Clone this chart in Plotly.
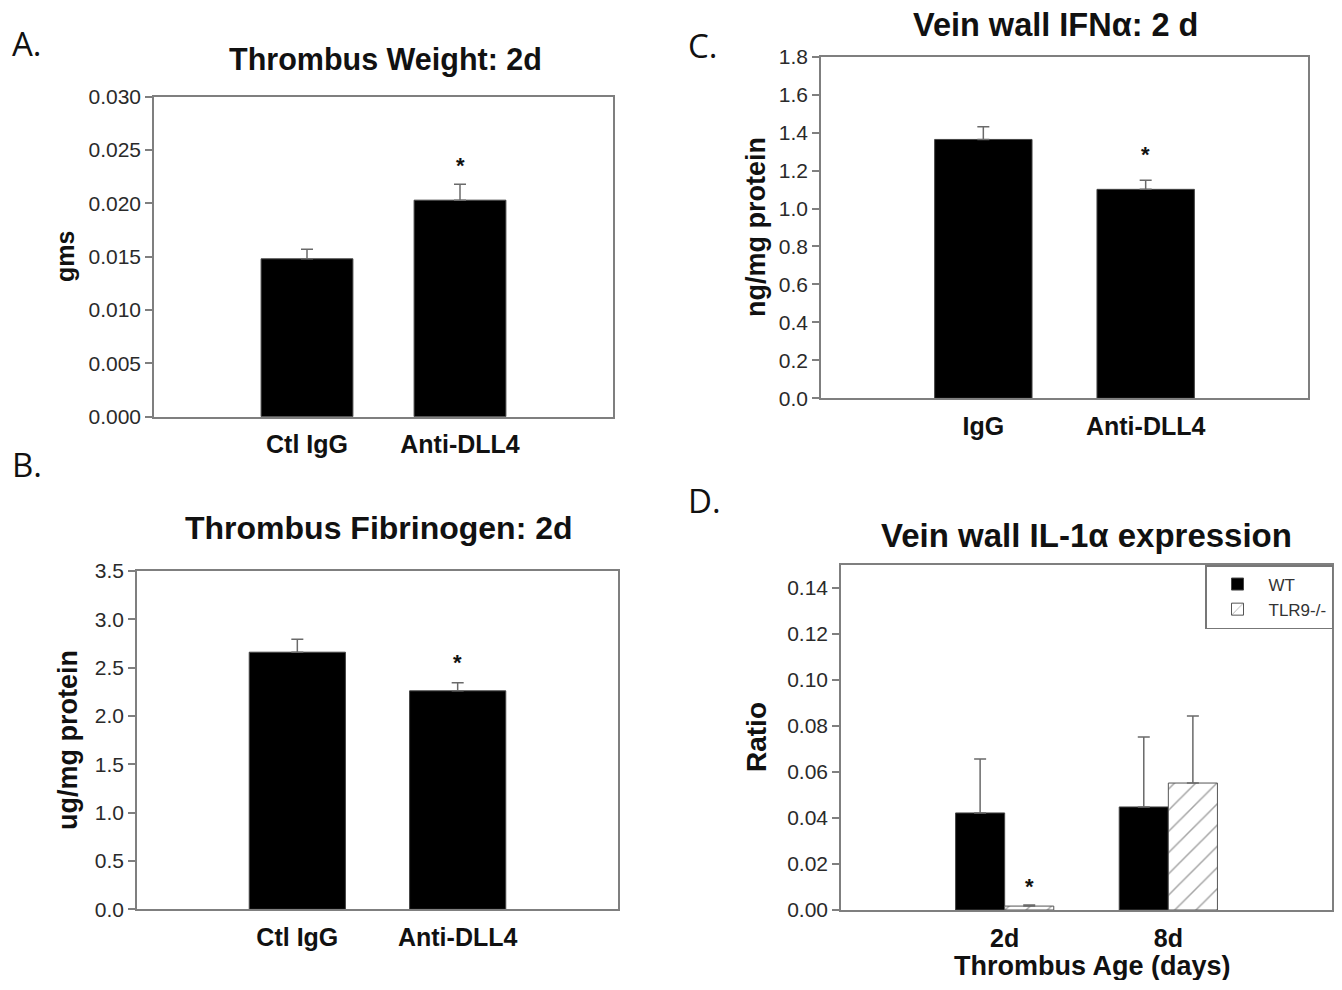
import plotly.graph_objects as go

# ---------------- data ----------------
a_cats = ["Ctl IgG", "Anti-DLL4"]
a_vals = [0.0148, 0.0203]
a_err = [0.0009, 0.0015]

b_cats = ["Ctl IgG", "Anti-DLL4"]
b_vals = [2.66, 2.26]
b_err = [0.135, 0.083]

c_cats = ["IgG", "Anti-DLL4"]
c_vals = [1.364, 1.101]
c_err = [0.067, 0.048]

d_cats = ["2d", "8d"]
d_wt = [0.0422, 0.0448]
d_wt_err = [0.0235, 0.0304]
d_tlr = [0.0017, 0.0552]
d_tlr_err = [0.0005, 0.0291]

# ---------------- layout helpers ----------------
OFF = 8                      # default body margin of the page
W, H = 1342 - 2 * OFF, 990 - 2 * OFF - 2
FONT = "Liberation Sans, Arial, sans-serif"
AXC = "#7f7f7f"
ERRC = "#6a6a6a"


def px(x):
    return (x - OFF) / W


def py(y):
    return 1 - (y - OFF) / H


panels = {
    "A": dict(x=(154, 613), y=(96.7, 416.7)),
    "B": dict(x=(137, 618), y=(571, 909.3)),
    "C": dict(x=(821, 1308), y=(56.7, 398.3)),
    "D": dict(x=(841, 1332), y=(565, 910)),
}
axis_ids = {"A": ("x", "y"), "B": ("x2", "y2"), "C": ("x3", "y3"), "D": ("x4", "y4")}

fig = go.Figure()


def err(arr):
    return dict(type="data", array=arr, arrayminus=[0] * len(arr), symmetric=False,
                color=ERRC, thickness=1.5, width=6)


fig.add_trace(go.Bar(x=a_cats, y=a_vals, error_y=err(a_err), width=0.6,
                     marker=dict(color="black", line=dict(color="#444", width=1)),
                     xaxis="x", yaxis="y", showlegend=False))
fig.add_trace(go.Bar(x=b_cats, y=b_vals, error_y=err(b_err), width=0.6,
                     marker=dict(color="black", line=dict(color="#444", width=1)),
                     xaxis="x2", yaxis="y2", showlegend=False))
fig.add_trace(go.Bar(x=c_cats, y=c_vals, error_y=err(c_err), width=0.6,
                     marker=dict(color="black", line=dict(color="#444", width=1)),
                     xaxis="x3", yaxis="y3", showlegend=False))
fig.add_trace(go.Bar(x=d_cats, y=d_wt, error_y=err(d_wt_err), width=0.3, offset=-0.3,
                     name="WT",
                     marker=dict(color="black", line=dict(color="#444", width=1)),
                     xaxis="x4", yaxis="y4", showlegend=True))
fig.add_trace(go.Bar(x=d_cats, y=d_tlr, error_y=err(d_tlr_err), width=0.3, offset=0.0,
                     name="TLR9-/-",
                     marker=dict(color="white", line=dict(color="#555", width=1),
                                 pattern=dict(shape="/", fgcolor="#4a4a4a", bgcolor="white",
                                              size=15, solidity=0.1)),
                     xaxis="x4", yaxis="y4", showlegend=True))

yspecs = {
    "A": dict(range=[0, 0.030], dtick=0.005, tickformat=".3f"),
    "B": dict(range=[0, 3.5], dtick=0.5, tickformat=".1f"),
    "C": dict(range=[0, 1.8], dtick=0.2, tickformat=".1f"),
    "D": dict(range=[0, 0.15], dtick=0.02, tickformat=".2f"),
}

layout = dict(
    width=W, height=H, margin=dict(l=0, r=0, t=0, b=0, autoexpand=False),
    paper_bgcolor="white", plot_bgcolor="white",
    barmode="overlay", font=dict(family=FONT, color="#222"),
    legend=dict(x=px(1333), y=py(565), xanchor="right", yanchor="top",
                bordercolor="#777", borderwidth=1.5, bgcolor="white",
                font=dict(size=17, family=FONT, color="#333"),
                itemwidth=52, tracegroupgap=2),
)

for key, (xa, ya) in axis_ids.items():
    p = panels[key]
    xname = "xaxis" + xa[1:]
    yname = "yaxis" + ya[1:]
    layout[xname] = dict(domain=[px(p["x"][0]), px(p["x"][1])], anchor=ya,
                         range=[-1, 2], showline=True, mirror=True, linecolor=AXC,
                         linewidth=1.5, ticks="", showgrid=False, zeroline=False,
                         tickfont=dict(size=25, family=FONT, weight="bold", color="#111"),
                         ticklabelstandoff=5, fixedrange=True)
    layout[yname] = dict(domain=[py(p["y"][1]), py(p["y"][0])], anchor=xa,
                         showline=True, mirror=True, linecolor=AXC, linewidth=1.5,
                         ticks="outside", ticklen=7, tickcolor=AXC, tickwidth=1.5,
                         showgrid=False, zeroline=False,
                         tickfont=dict(size=21, family=FONT, color="#2a2a2a"),
                         **yspecs[key])

fig.update_layout(**layout)

ann = []
# titles
titles = [
    ("Thrombus Weight: 2d", 385, 59, 30.5),
    ("Thrombus Fibrinogen: 2d", 379, 528, 32),
    ("Vein wall IFNα: 2 d", 1055, 25, 32.5),
    ("Vein wall IL-1α expression", 1086, 535, 33),
]
for t, x, y, s in titles:
    ann.append(dict(text=t, x=px(x), y=py(y), xref="paper", yref="paper",
                    xanchor="center", yanchor="middle", showarrow=False,
                    font=dict(size=s, family=FONT, weight="bold", color="#111")))
# y-axis titles
ytitles = [("gms", 65, 257, 25), ("ug/mg protein", 68, 740, 27),
           ("ng/mg protein", 756, 227, 27), ("Ratio", 756, 737, 28)]
for t, x, y, s in ytitles:
    ann.append(dict(text=t, x=px(x), y=py(y), xref="paper", yref="paper",
                    xanchor="center", yanchor="middle", textangle=-90, showarrow=False,
                    font=dict(size=s, family=FONT, weight="bold", color="#111")))
# x-axis title D
ann.append(dict(text="Thrombus Age (days)", x=px(1092), y=py(966), xref="paper",
                yref="paper", xanchor="center", yanchor="middle", showarrow=False,
                font=dict(size=27, family=FONT, weight="bold", color="#111")))
# panel letters
for t, x, y in [("A.", 10, 44), ("B.", 10, 464), ("C.", 686, 46), ("D.", 686, 500)]:
    ann.append(dict(text=t, x=px(x), y=py(y), xref="paper", yref="paper",
                    xanchor="left", yanchor="middle", showarrow=False,
                    font=dict(size=33, family="Open Sans, sans-serif", color="#111")))
# significance stars
stars = [
    ("x", "y", a_cats[1], a_vals[1] + a_err[1], 0, 4),
    ("x2", "y2", b_cats[1], b_vals[1] + b_err[1], 0, 6),
    ("x3", "y3", c_cats[1], c_vals[1] + c_err[1], 0, 11),
    ("x4", "y4", d_cats[0], d_tlr[0] + d_tlr_err[0], 25, 4),
]
for xr, yr, xv, yv, xs, ys in stars:
    ann.append(dict(text="*", x=xv, y=yv, xref=xr, yref=yr, xshift=xs, yshift=ys,
                    xanchor="center", yanchor="bottom", showarrow=False,
                    font=dict(size=22, family=FONT, weight="bold", color="#111")))

fig.update_layout(annotations=ann)

fig.write_html("out.html", config={"displayModeBar": False})
